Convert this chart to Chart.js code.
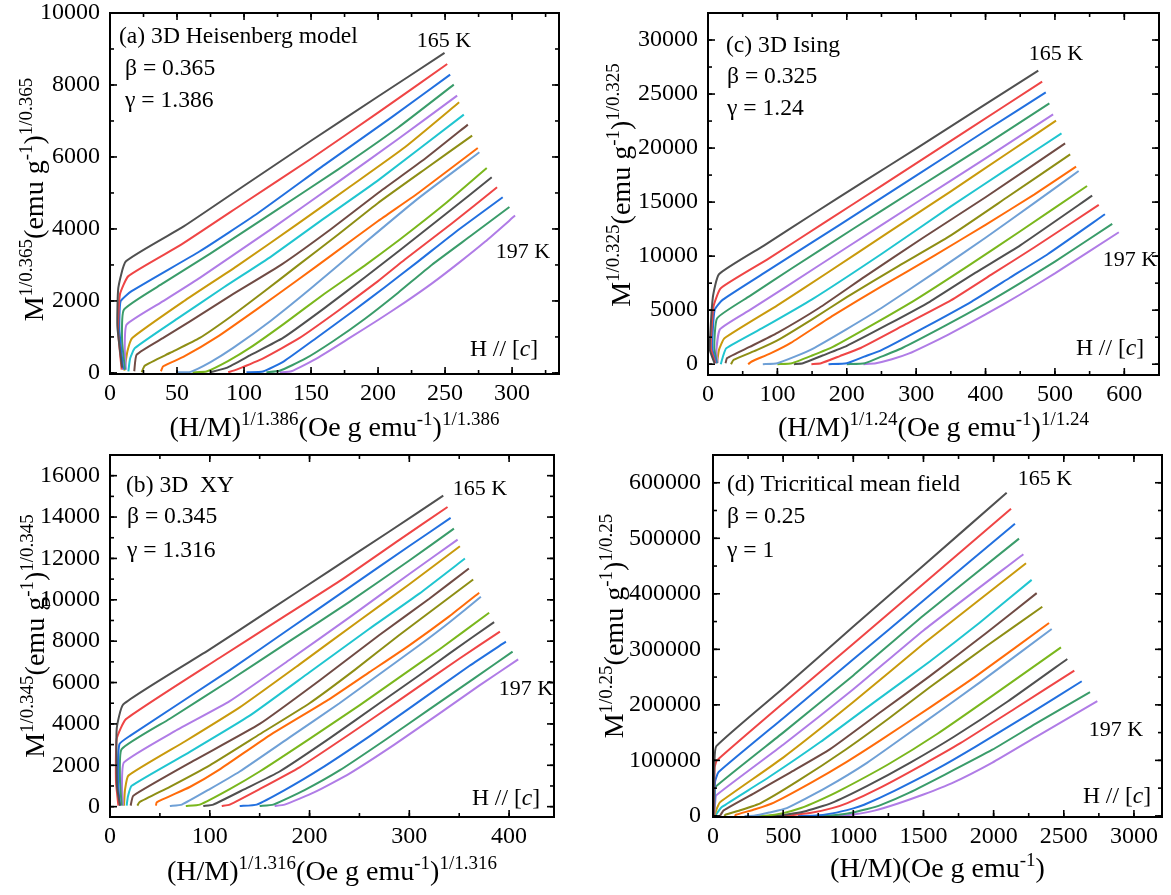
<!DOCTYPE html>
<html><head><meta charset="utf-8">
<script src="https://cdn.jsdelivr.net/npm/chart.js@4.4.1/dist/chart.umd.min.js"></script>
<style>
html,body{margin:0;padding:0;background:#fff;}
#wrap{position:relative;width:1171px;height:895px;overflow:hidden;background:#fff;}
canvas{position:absolute;}
</style></head><body><div id="wrap">
<canvas id="pa" width="585" height="447" style="left:0;top:0;width:585px;height:447px"></canvas>
<canvas id="pc" width="586" height="447" style="left:585px;top:0;width:586px;height:447px"></canvas>
<canvas id="pb" width="585" height="448" style="left:0;top:447px;width:585px;height:448px"></canvas>
<canvas id="pd" width="586" height="448" style="left:585px;top:447px;width:586px;height:448px"></canvas>
</div>
<script>
// ---------------- data ----------------
const temperatures = [165,167,169,171,173,175,177,179,181,183,185,187,189,191,193,195,197];
const seriesColors = ['#505050','#ef4545','#2270df','#3a9c6a','#b07ce6','#c99a0c','#20c5d0','#704b44','#8e8e14','#ff6b0a','#6fa0d6','#7ab71d','#505050','#ef4545','#2270df','#3a9c6a','#b07ce6'];

// tick labels
const heisenbergXTicks = [0,50,100,150,200,250,300];
const heisenbergYTicks = [0,2000,4000,6000,8000,10000];
const xyXTicks = [0,100,200,300,400];
const xyYTicks = [0,2000,4000,6000,8000,10000,12000,14000,16000];
const isingXTicks = [0,100,200,300,400,500,600];
const isingYTicks = [0,5000,10000,15000,20000,25000,30000];
const tricriticalXTicks = [0,500,1000,1500,2000,2500,3000];
const tricriticalYTicks = [0,100000,200000,300000,400000,500000,600000];

// (a) 3D Heisenberg : x=(H/M)^(1/1.386), y=M^(1/0.365)
const heisenbergCurves = [
 [[9,150],[5.5,1300],[6.2,2360],[11.9,3100],[55,4070],[100,5200],[150,6450],[200,7680],[249.6,8890]],
 [[8.7,90],[6,1200],[7.4,2180],[13.7,2690],[53.4,3570],[100,4720],[150,5950],[200,7230],[251.6,8584]],
 [[9.9,90],[7,1200],[7.9,1990],[16.1,2270],[67,3380],[110,4430],[160,5780],[210,7100],[253.8,8288]],
 [[11.2,90],[9,900],[10.4,1760],[40,2500],[74.5,3306],[120,4420],[170,5650],[215,6820],[256.5,8010]],
 [[11.9,90],[11,700],[12.4,1340],[40,2000],[67,2640],[120,3990],[170,5300],[215,6500],[259,7704]],
 [[10.7,65],[13,600],[16.6,970],[55,1990],[94.4,2960],[140,4140],[180,5200],[220,6270],[260.5,7519]],
 [[13.7,40],[15,400],[18.6,690],[50,1500],[85,2380],[120.4,3240],[160,4300],[200,5350],[264,7176]],
 [[18.1,46],[19.9,509],[40,980],[60,1440],[90,2150],[127.9,3010],[165,4000],[200,5000],[235,5950],[267,6899]],
 [[23.6,20],[26,204],[45,560],[67,972],[90,1560],[115,2260],[140,2980],[170,3840],[200,4723],[235,5660],[270.2,6593]],
 [[38,46],[39.7,185],[55,450],[80,1000],[110,1780],[140,2580],[166.4,3300],[200,4220],[230,5000],[274.4,6250]],
 [[49.7,18],[60,30],[75,300],[91.9,694],[120,1450],[150,2350],[191.2,3650],[230,4850],[275.6,6130]],
 [[61.6,18],[72,40],[88,330],[104.3,694],[130,1370],[160,2200],[190,2980],[216,3700],[250,4700],[281.1,5695]],
 [[74.5,18],[86.9,139],[105,500],[129.1,972],[160,1800],[190,2650],[216,3400],[250,4400],[284.8,5436]],
 [[88.2,18],[94.4,93],[115,420],[141.5,972],[170,1720],[200,2550],[220,3150],[255,4150],[288.8,5158]],
 [[101.8,18],[114.2,40],[130,330],[154,972],[180,1680],[205,2380],[230,3100],[260,3980],[293,4880]],
 [[116.7,18],[126.6,60],[145,380],[166.4,880],[190,1500],[215,2230],[240,3000],[270,3830],[298,4611]],
 [[126.6,18],[135.3,46],[155,420],[178.8,972],[200,1470],[220,1960],[240,2480],[260,3050],[280,3650],[302.2,4371]]
];

// (b) 3D XY : x=(H/M)^(1/1.316), y=M^(1/0.345)
const xyCurves = [
 [[10,50],[7,1000],[6.7,3750],[13.4,4950],[100,7600],[160,9500],[220,11400],[280,13300],[334,15035]],
 [[8.4,50],[6,1200],[6.7,3270],[16,4230],[110,7200],[170,9050],[230,10900],[290,12900],[338.3,14488]],
 [[10,50],[8,1200],[9.4,3020],[20,3425],[120,6600],[180,8600],[240,10600],[300,12600],[341.4,13957]],
 [[11.7,50],[10,1300],[11.7,2780],[60,4250],[120,6100],[180,8000],[240,9900],[300,11900],[344.7,13443]],
 [[13,50],[12,1000],[14,2140],[65,3650],[120,5100],[180,7100],[240,9150],[300,11250],[348.4,12912]],
 [[14,50],[15,800],[18.4,1500],[75,3150],[130,4800],[190,6880],[250,9000],[300,10750],[350.7,12590]],
 [[16.7,50],[18,500],[21.7,1010],[80,2650],[140,4400],[200,6500],[260,8600],[310,10300],[355.7,11995]],
 [[20.7,50],[23.4,530],[85,2250],[150,4000],[210,6100],[270,8300],[320,10050],[359.7,11513]],
 [[27.4,50],[29.4,210],[60,960],[100,2000],[150,3500],[200,5000],[245,6600],[290,8300],[330,9750],[364,10983]],
 [[46.1,50],[46.8,210],[80,950],[110,1800],[160,3450],[220,5200],[260,6500],[300,7800],[340,9200],[370,10340]],
 [[60,30],[72,100],[100,850],[130,1700],[180,3350],[230,5000],[270,6400],[310,7800],[340,8900],[371.7,10146]],
 [[76,30],[90,100],[120,850],[150,1700],[200,3280],[250,4900],[290,6250],[330,7600],[380,9375]],
 [[93.5,30],[103.5,100],[135,850],[170,1700],[220,3300],[270,5000],[310,6350],[340,7400],[385,8924]],
 [[112,30],[120,100],[150,850],[190,1900],[240,3500],[290,5150],[350,7150],[390.8,8458]],
 [[130,30],[147,100],[175,800],[210,1800],[260,3400],[300,4750],[360,6800],[396.8,7976]],
 [[150,30],[163.7,100],[195,800],[230,1750],[275,3200],[320,4700],[365,6200],[403.5,7493]],
 [[165,30],[175,100],[205,700],[240,1600],[285,3000],[330,4500],[370,5850],[409.1,7123]]
];

// (c) 3D Ising : x=(H/M)^(1/1.24), y=M^(1/0.325)
const isingCurves = [
 [[9.5,90],[2.6,1330],[6.8,6100],[15.8,8320],[80,10950],[150,13850],[225,16920],[300,19950],[390,23650],[476,27160]],
 [[10.5,90],[4,1500],[7.9,5330],[18.4,7030],[86.8,9740],[170,13200],[250,16500],[370,21500],[481.6,26143]],
 [[12,90],[6,1500],[9.5,5020],[21,5950],[80,8400],[150,11265],[225,14350],[300,17445],[400,21600],[486.8,25157]],
 [[13,90],[9,1500],[13.2,4255],[60,6300],[121,8879],[210,12560],[300,16236],[400,20300],[492,24140]],
 [[14,90],[12,1200],[17.4,3237],[60,5000],[113,7183],[200,10800],[300,14943],[400,19050],[497.4,23122]],
 [[13,90],[15.8,1326],[23.7,2405],[100,5450],[171,8417],[260,12200],[350,16000],[430,19450],[501.6,22537]],
 [[18.4,0],[22,800],[26.3,1480],[80,3400],[150,6000],[250,10200],[350,14600],[430,18000],[509.5,21365]],
 [[25.3,90],[27.4,555],[60,1600],[100,2900],[160,5200],[226,8108],[310,11700],[400,15450],[514.7,20440]],
 [[33.2,0],[36.8,400],[70,1300],[100,2200],[150,4150],[200,6200],[275,9100],[347,11800],[430,15400],[522,19423]],
 [[57.9,0],[63,250],[90,1000],[120,2000],[180,4500],[250,7200],[325,10000],[400,12900],[470,15700],[530.5,18282]],
 [[79,0],[100,92],[125,700],[150,1400],[200,3250],[250,5200],[325,8400],[400,11700],[470,14900],[534.2,17881]],
 [[100,0],[121,92],[150,800],[180,1600],[240,3750],[300,6000],[375,9100],[450,12300],[546.3,16494]],
 [[123.7,0],[136.8,92],[165,800],[200,1700],[260,3700],[320,5800],[385,8450],[450,11000],[553.7,15600]],
 [[149,0],[163,92],[190,750],[220,1500],[285,3700],[350,5900],[410,8350],[470,10800],[563.2,14737]],
 [[173.7,0],[200,92],[225,700],[250,1300],[315,3500],[380,5800],[435,8000],[490,10200],[572.1,13873]],
 [[200,0],[226,92],[250,700],[280,1500],[340,3500],[400,5600],[450,7500],[500,9500],[582.6,12979]],
 [[224,0],[242,92],[265,450],[290,1000],[315,1750],[345,2700],[400,4600],[450,6450],[500,8400],[592.1,12209]]
];

// (d) Tricritical mean field : x=H/M, y=M^4
const tricriticalCurves = [
 [[4,0],[10,97000],[23.8,125700],[500,230000],[1000,341000],[1500,451000],[2093,582000]],
 [[5,0],[12,88000],[28.5,100000],[500,203000],[1000,310000],[1500,418000],[2124,553300]],
 [[6,0],[15,62000],[40,79000],[500,176000],[1000,282000],[1500,388000],[2152,526300]],
 [[7,0],[12,40000],[16.4,52100],[500,150000],[1000,253000],[1500,361000],[2181,499400]],
 [[8,0],[16,25000],[23.5,37000],[500,128000],[1000,228000],[1500,334000],[2212,471300]],
 [[10,0],[30,15000],[52,25100],[500,105000],[1000,205000],[1500,310000],[2231,455100]],
 [[15,0],[40,9000],[64,16200],[400,70000],[765,133000],[1150,205000],[1545,278000],[1900,348000],[2271,425100]],
 [[50,0],[76,10000],[292,40700],[550,78000],[832,119700],[1200,188000],[1545,251800],[1950,330000],[2307,401200]],
 [[80,0],[91.5,2400],[200,10500],[340,23000],[600,62000],[944,119200],[1250,175000],[1545,231600],[1950,306000],[2347,376600]],
 [[155,0],[164,2000],[300,12000],[434,24000],[700,60000],[950,97000],[1198,137000],[1550,196000],[1875,251800],[2395,347300]],
 [[225,0],[292,200],[400,6000],[526,14100],[800,50000],[1100,96000],[1452,158900],[1900,240000],[2414,336500]],
 [[302,0],[375,200],[500,5000],[627,14100],[750,27000],[900,45000],[1250,93000],[1600,148000],[2000,218000],[2480,303600]],
 [[393,0],[487,1300],[650,8000],[843,23000],[1100,54000],[1400,95000],[1720,143000],[2100,206000],[2525,282600]],
 [[497,0],[546,750],[700,5500],[850,14000],[957,23000],[1200,52000],[1500,93000],[1763,131000],[2150,193000],[2575,261700]],
 [[606,0],[711,220],[850,4500],[1000,13500],[1077,20000],[1300,46000],[1600,85000],[1875,125200],[2250,183000],[2628,242500]],
 [[733,0],[820,400],[950,4000],[1100,12500],[1198,19900],[1400,42000],[1650,74000],[1991,119200],[2300,166000],[2687,222800]],
 [[820,0],[900,270],[1000,2500],[1150,9500],[1324,22900],[1500,38500],[1700,58500],[1991,96000],[2300,142000],[2739,206600]]
];

// axis ranges / tick steps
const axisHeisenberg = {xMin:0, xMax:335, xStep:50, yMin:-30, yMax:10000, yStep:2000};
const axisXY = {xMin:0, xMax:445, xStep:100, yMin:-500, yMax:17000, yStep:2000};
const axisIsing = {xMin:0, xMax:650, xStep:100, yMin:-1000, yMax:32500, yStep:5000};
const axisTricritical = {xMin:0, xMax:3200, xStep:500, yMin:-2000, yMax:650000, yStep:100000};

// ---------------- drawing ----------------
const FONT = '"Liberation Serif","Times New Roman",serif';
const TICK_SIZE = 24, NOTE_SIZE = 23.6, TEMP_SIZE = 22, TITLE_SIZE = 28, SUP_SIZE = 19;

function drawRich(ctx, parts, x, y, size, supSize, rotate, align) {
  ctx.save();
  ctx.translate(x, y);
  if (rotate) ctx.rotate(-Math.PI / 2);
  ctx.textBaseline = 'alphabetic';
  ctx.textAlign = 'left';
  ctx.fillStyle = '#000';
  const fnt = p => (p[1] === 'it' ? 'italic ' : '') + (p[1] === 'sup' ? supSize : size) + 'px ' + FONT;
  let total = 0;
  const widths = parts.map(p => { ctx.font = fnt(p); const w = ctx.measureText(p[0]).width; total += w; return w; });
  let cx = align === 'center' ? -total / 2 : 0;
  parts.forEach((p, i) => {
    ctx.font = fnt(p);
    ctx.fillText(p[0], cx, p[1] === 'sup' ? -size * 0.4 : 0);
    cx += widths[i];
  });
  ctx.restore();
}

const panelDecor = {};

const framePlugin = {
  id: 'frameTicks',
  afterDatasetsDraw(chart) {
    const d = panelDecor[chart.canvas.id];
    const {ctx, chartArea: a} = chart;
    const xs = chart.scales.x, ys = chart.scales.y;
    ctx.save();
    ctx.strokeStyle = '#000';
    ctx.lineWidth = 1.6;
    const line = (x1, y1, x2, y2) => { ctx.beginPath(); ctx.moveTo(x1, y1); ctx.lineTo(x2, y2); ctx.stroke(); };
    const ticks = (scale, step, len, horiz) => {
      const start = Math.ceil(scale.min / step - 1e-9) * step;
      for (let v = start; v <= scale.max + 1e-9; v += step) {
        const p = scale.getPixelForValue(v);
        if (horiz) { line(p, a.bottom, p, a.bottom - len); line(p, a.top, p, a.top + len); }
        else { line(a.left, p, a.left + len, p); line(a.right, p, a.right - len, p); }
      }
    };
    ticks(xs, d.axis.xStep, 7, true);
    ticks(xs, d.axis.xStep / 2, 4, true);
    ticks(ys, d.axis.yStep, 7, false);
    ticks(ys, d.axis.yStep / 2, 4, false);
    ctx.lineWidth = 2;
    ctx.strokeRect(a.left, a.top, a.right - a.left, a.bottom - a.top);
    ctx.restore();
  },
  afterDraw(chart) {
    const d = panelDecor[chart.canvas.id];
    const {ctx, chartArea: a} = chart;
    const ox = d.offset[0], oy = d.offset[1];
    drawRich(ctx, d.xTitle, (a.left + a.right) / 2, d.xTitleBase - oy, TITLE_SIZE, SUP_SIZE, false, 'center');
    drawRich(ctx, d.yTitle, d.yTitleBase - ox, (a.top + a.bottom) / 2 + d.yTitleShift, TITLE_SIZE, SUP_SIZE, true, 'center');
    d.notes.forEach(n => drawRich(ctx, n.parts, n.x - ox, n.y - oy, n.size || NOTE_SIZE, SUP_SIZE, false, n.align));
  }
};

function makePanel(id, curves, axis, xTicks, yTicks, geom, decor) {
  decor.axis = axis;
  decor.offset = geom.offset;
  panelDecor[id] = decor;
  const fmt = v => String(v);
  const datasets = curves.map((c, i) => ({
    label: temperatures[i] + ' K',
    data: c.map(p => ({x: p[0], y: p[1]})),
    borderColor: seriesColors[i],
    backgroundColor: seriesColors[i],
    borderWidth: 2,
    pointRadius: 0,
    tension: 0.15,
    fill: false
  }));
  const zeroPad = s => { s.paddingLeft = 0; s.paddingRight = 0; s.paddingTop = 0; s.paddingBottom = 0; };
  return new Chart(document.getElementById(id), {
    type: 'line',
    data: {datasets},
    options: {
      responsive: false,
      animation: false,
      events: [],
      layout: {padding: {left: 0, top: geom.padTop, right: geom.padRight, bottom: 0}},
      plugins: {legend: {display: false}, tooltip: {enabled: false}},
      scales: {
        x: {
          type: 'linear', min: axis.xMin, max: axis.xMax,
          grid: {display: false, drawTicks: false},
          border: {display: false},
          afterBuildTicks: s => { s.ticks = xTicks.map(v => ({value: v})); },
          afterFit: s => { s.height = geom.xAxisH; zeroPad(s); },
          ticks: {autoSkip: false, maxRotation: 0, padding: geom.xPad,
                  color: '#000', font: {family: FONT, size: TICK_SIZE}, callback: fmt}
        },
        y: {
          type: 'linear', min: axis.yMin, max: axis.yMax,
          grid: {display: false, drawTicks: false},
          border: {display: false},
          afterBuildTicks: s => { s.ticks = yTicks.map(v => ({value: v})); },
          afterFit: s => { s.width = geom.yAxisW; zeroPad(s); },
          ticks: {autoSkip: false, padding: geom.yPad,
                  color: '#000', font: {family: FONT, size: TICK_SIZE}, callback: fmt}
        }
      }
    },
    plugins: [framePlugin]
  });
}

const S = 'sup', I = 'it';
const hc = [['H // ['], ['c', I], [']']];

makePanel('pa', heisenbergCurves, axisHeisenberg, heisenbergXTicks, heisenbergYTicks,
  {offset: [0, 0], yAxisW: 110, xAxisH: 73, padTop: 13, padRight: 26, xPad: 5, yPad: 10},
  {
    xTitle: [['(H/M)'], ['1/1.386', S], ['(Oe g emu'], ['-1', S], [')'], ['1/1.386', S]], xTitleBase: 436,
    yTitle: [['M'], ['1/0.365', S], ['(emu g'], ['-1', S], [')'], ['1/0.365', S]], yTitleBase: 43, yTitleShift: 6,
    notes: [
      {parts: [['(a) 3D Heisenberg model']], x: 119, y: 43, align: 'left'},
      {parts: [['β = 0.365']], x: 125, y: 75, align: 'left'},
      {parts: [['γ = 1.386']], x: 125, y: 107, align: 'left'},
      {parts: [['165 K']], x: 444, y: 47, align: 'center', size: TEMP_SIZE},
      {parts: [['197 K']], x: 523, y: 258, align: 'center', size: TEMP_SIZE},
      {parts: hc, x: 504, y: 356, align: 'center'}
    ]
  });

makePanel('pc', isingCurves, axisIsing, isingXTicks, isingYTicks,
  {offset: [585, 0], yAxisW: 123, xAxisH: 72, padTop: 13, padRight: 12, xPad: 5, yPad: 10},
  {
    xTitle: [['(H/M)'], ['1/1.24', S], ['(Oe g emu'], ['-1', S], [')'], ['1/1.24', S]], xTitleBase: 436,
    yTitle: [['M'], ['1/0.325', S], ['(emu g'], ['-1', S], [')'], ['1/0.325', S]], yTitleBase: 630, yTitleShift: -9,
    notes: [
      {parts: [['(c) 3D Ising']], x: 726, y: 52, align: 'left'},
      {parts: [['β = 0.325']], x: 727, y: 83, align: 'left'},
      {parts: [['γ = 1.24']], x: 727, y: 115, align: 'left'},
      {parts: [['165 K']], x: 1056, y: 60, align: 'center', size: TEMP_SIZE},
      {parts: [['197 K']], x: 1130, y: 266, align: 'center', size: TEMP_SIZE},
      {parts: hc, x: 1110, y: 355, align: 'center'}
    ]
  });

makePanel('pb', xyCurves, axisXY, xyXTicks, xyYTicks,
  {offset: [0, 447], yAxisW: 110, xAxisH: 78, padTop: 8, padRight: 31, xPad: 5, yPad: 10},
  {
    xTitle: [['(H/M)'], ['1/1.316', S], ['(Oe g emu'], ['-1', S], [')'], ['1/1.316', S]], xTitleBase: 880,
    yTitle: [['M'], ['1/0.345', S], ['(emu g'], ['-1', S], [')'], ['1/0.345', S]], yTitleBase: 44, yTitleShift: 0,
    notes: [
      {parts: [['(b) 3D  XY']], x: 126, y: 492, align: 'left'},
      {parts: [['β = 0.345']], x: 127, y: 523, align: 'left'},
      {parts: [['γ = 1.316']], x: 127, y: 557, align: 'left'},
      {parts: [['165 K']], x: 480, y: 495, align: 'center', size: TEMP_SIZE},
      {parts: [['197 K']], x: 526, y: 695, align: 'center', size: TEMP_SIZE},
      {parts: hc, x: 506, y: 805, align: 'center'}
    ]
  });

makePanel('pd', tricriticalCurves, axisTricritical, tricriticalXTicks, tricriticalYTicks,
  {offset: [585, 447], yAxisW: 128, xAxisH: 78, padTop: 8, padRight: 9, xPad: 5, yPad: 12},
  {
    xTitle: [['(H/M)(Oe g emu'], ['-1', S], [')']], xTitleBase: 877,
    yTitle: [['M'], ['1/0.25', S], ['(emu g'], ['-1', S], [')'], ['1/0.25', S]], yTitleBase: 623, yTitleShift: -10,
    notes: [
      {parts: [['(d) Tricritical mean field']], x: 727, y: 491, align: 'left'},
      {parts: [['β = 0.25']], x: 727, y: 523, align: 'left'},
      {parts: [['γ = 1']], x: 727, y: 557, align: 'left'},
      {parts: [['165 K']], x: 1045, y: 485, align: 'center', size: TEMP_SIZE},
      {parts: [['197 K']], x: 1116, y: 736, align: 'center', size: TEMP_SIZE},
      {parts: hc, x: 1117, y: 803, align: 'center'}
    ]
  });
</script></body></html>
